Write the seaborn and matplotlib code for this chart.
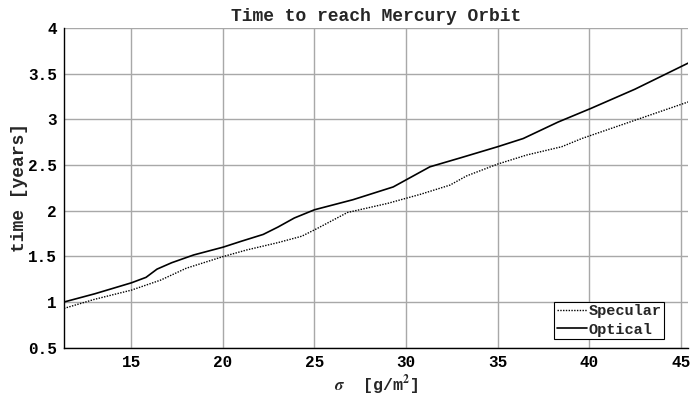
import matplotlib
matplotlib.use("Agg")
import matplotlib.pyplot as plt
import seaborn as sns
import pandas as pd

# Sail loading (g/m^2) vs. transfer time (years)
sigma_optical = [11.32, 13.0, 15.0, 15.8, 16.4, 17.2, 18.4, 20.0, 21.0, 22.2, 23.0, 23.9, 25.0, 27.1, 29.3, 30.3, 31.3, 33.0, 35.0, 36.4, 38.3, 40.1, 42.5, 45.4]
time_optical = [1.00, 1.09, 1.21, 1.27, 1.36, 1.43, 1.515, 1.60, 1.665, 1.74, 1.82, 1.92, 2.01, 2.12, 2.26, 2.37, 2.48, 2.58, 2.70, 2.79, 2.97, 3.12, 3.33, 3.615]

sigma_specular = [11.32, 13.0, 15.0, 16.6, 18.0, 20.0, 21.3, 23.0, 24.3, 25.1, 26.8, 29.0, 30.8, 32.4, 33.3, 35.0, 36.6, 38.5, 39.6, 42.5, 45.4]
time_specular = [0.93, 1.03, 1.13, 1.24, 1.37, 1.497, 1.57, 1.65, 1.72, 1.80, 1.98, 2.08, 2.18, 2.28, 2.38, 2.51, 2.61, 2.70, 2.79, 2.99, 3.19]

x_ticks = [15, 20, 25, 30, 35, 40, 45]
y_ticks = [0.5, 1, 1.5, 2, 2.5, 3, 3.5, 4]
y_tick_labels = ["0.5", "1", "1.5", "2", "2.5", "3", "3.5", "4"]

sns.set_style("white")
plt.rcParams["font.family"] = ["Liberation Mono", "DejaVu Sans Mono"]
plt.rcParams["font.weight"] = "bold"
plt.rcParams["mathtext.fontset"] = "stix"

df_spec = pd.DataFrame({"sigma": sigma_specular, "time": time_specular})
df_opt = pd.DataFrame({"sigma": sigma_optical, "time": time_optical})

fig = plt.figure(figsize=(6.91, 4.0), dpi=100)
ax = fig.add_axes([0.0926, 0.1308, 0.9031, 0.7992])

sns.lineplot(data=df_spec, x="sigma", y="time", ax=ax, color="black",
             linestyle=(0, (1, 1)), linewidth=1.0, label="Specular")
sns.lineplot(data=df_opt, x="sigma", y="time", ax=ax, color="black",
             linestyle="-", linewidth=1.2, label="Optical")

ax.set_xlim(11.32, 45.4)
ax.set_ylim(0.5, 4)
ax.set_xticks(x_ticks)
ax.set_xticklabels([str(t) for t in x_ticks], fontsize=11.5, fontweight="bold")
ax.set_yticks(y_ticks)
ax.set_yticklabels(y_tick_labels, fontsize=11.5, fontweight="bold")

ax.grid(True, color="#a8a8a8", linewidth=1.0)
ax.set_axisbelow(True)
for side in ["top", "right"]:
    ax.spines[side].set_visible(False)
for side in ["left", "bottom"]:
    ax.spines[side].set_color("black")
    ax.spines[side].set_linewidth(1.0)
ax.tick_params(direction="in", length=5, width=0.8, colors="black", pad=5)

ax.set_title("Time to reach Mercury Orbit", fontsize=13, fontweight="bold", pad=5)
ax.set_xlabel(r"$\sigma$  [g/m$^\mathbf{2}$]", fontsize=12, fontweight="bold", labelpad=3)
ax.set_ylabel("time [years]", fontsize=13, fontweight="bold", labelpad=0)

leg = ax.legend(loc="lower right", bbox_to_anchor=(0.9615, 0.027),
                prop={"weight": "bold", "size": 11}, handlelength=2.0,
                handletextpad=0.1, borderpad=0.15, labelspacing=0.3,
                borderaxespad=0, fancybox=False, framealpha=1, edgecolor="black")
leg.get_frame().set_linewidth(0.8)

fig.savefig("out.png", dpi=100)
